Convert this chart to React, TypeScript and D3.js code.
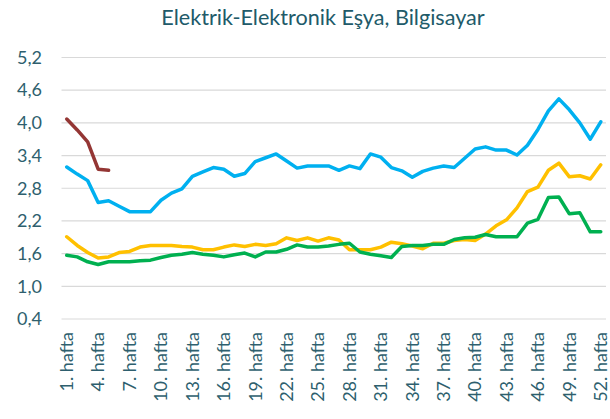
import * as d3 from "d3";

const WEEKS = d3.range(1, 53).map(w => `${w}. hafta`);
const TICK_WEEKS = d3.range(1, 53, 3);
const Y_TICKS = [0.4, 1.0, 1.6, 2.2, 2.8, 3.4, 4.0, 4.6, 5.2];

// 5 weeks only
const brown = [4.07, 3.87, 3.65, 3.15, 3.13];

const blue = [
  3.19, 3.06, 2.94, 2.54, 2.57, 2.47, 2.37, 2.37, 2.37, 2.58,
  2.71, 2.79, 3.02, 3.1, 3.18, 3.15, 3.02, 3.07, 3.29, 3.36,
  3.43, 3.3, 3.17, 3.21, 3.21, 3.21, 3.13, 3.21, 3.16, 3.43,
  3.37, 3.18, 3.12, 3.0, 3.11, 3.17, 3.21, 3.18, 3.35, 3.52,
  3.56, 3.5, 3.5, 3.41, 3.59, 3.88, 4.22, 4.44, 4.24, 4.0,
  3.7, 4.02,
];

const yellow = [
  1.91, 1.75, 1.62, 1.52, 1.54, 1.62, 1.64, 1.72, 1.75, 1.75,
  1.75, 1.73, 1.72, 1.67, 1.67, 1.72, 1.76, 1.73, 1.77, 1.75,
  1.78, 1.89, 1.84, 1.89, 1.83, 1.89, 1.85, 1.67, 1.67, 1.67,
  1.72, 1.81, 1.78, 1.74, 1.69, 1.79, 1.79, 1.84, 1.86, 1.84,
  1.96, 2.11, 2.22, 2.44, 2.74, 2.82, 3.13, 3.26, 3.01, 3.03,
  2.97, 3.23,
];

const green = [
  1.57, 1.54, 1.45, 1.4, 1.45, 1.45, 1.45, 1.47, 1.48, 1.53,
  1.57, 1.59, 1.62, 1.59, 1.57, 1.54, 1.58, 1.61, 1.54, 1.63,
  1.63, 1.68, 1.76, 1.72, 1.72, 1.74, 1.77, 1.79, 1.63, 1.59,
  1.56, 1.53, 1.73, 1.75, 1.75, 1.77, 1.77, 1.86, 1.89, 1.9,
  1.95, 1.91, 1.91, 1.91, 2.16, 2.23, 2.63, 2.64, 2.33, 2.35,
  2.0, 2.0,
];

const SERIES = [
  { key: "blue", values: blue, color: "#00B0F0" },
  { key: "yellow", values: yellow, color: "#FFC000" },
  { key: "green", values: green, color: "#00B050" },
  { key: "brown", values: brown, color: "#943634" },
];

const W = 610, H = 419;
const FONT = "Lato, 'Open Sans', sans-serif";

export default function App() {
  const x = d3.scaleBand().domain(WEEKS).range([61.5, 606]);
  const y = d3.scaleLinear().domain([0.4, 5.2]).range([319, 57.5]);
  const cx = (i: number) => (x(WEEKS[i]) ?? 0) + x.bandwidth() / 2;

  const line = d3.line<number>()
    .x((_, i) => cx(i))
    .y(d => y(d));

  return (
    <svg width={W} height={H} style={{ position: "absolute", left: 0, top: 0, fontFamily: FONT }}>
      <rect width={W} height={H} fill="#fff" />
      <text x={323} y={25} textAnchor="middle" fontSize={21.6} fill="#215A69">
        Elektrik-Elektronik Eşya, Bilgisayar
      </text>

      {/* grid + y labels */}
      {Y_TICKS.map(t => (
        <g key={t}>
          <line x1={61.5} x2={606} y1={y(t)} y2={y(t)} stroke="#D9D9D9" strokeWidth={1.2} />
          <text x={42} y={y(t)} dy="0.35em" textAnchor="end" fontSize={18} fill="#2E5F6E">
            {t.toFixed(1).replace(".", ",")}
          </text>
        </g>
      ))}

      {/* lines */}
      {SERIES.map(s => (
        <path key={s.key} d={line(s.values) ?? ""} fill="none" stroke={s.color}
          strokeWidth={3.5} strokeLinejoin="round" strokeLinecap="round" />
      ))}

      {/* x labels */}
      {TICK_WEEKS.map(w => (
        <text key={w} transform={`translate(${cx(w - 1)},332) rotate(-90)`} dy="0.35em"
          textAnchor="end" fontSize={18} fill="#2E5F6E">
          {WEEKS[w - 1]}
        </text>
      ))}
    </svg>
  );
}
